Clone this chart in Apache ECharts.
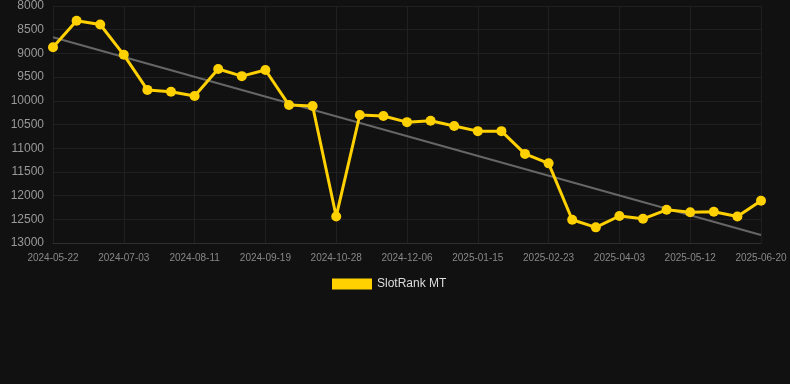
<!DOCTYPE html>
<html>
<head>
<meta charset="utf-8">
<script src="https://cdn.jsdelivr.net/npm/echarts@6/dist/echarts.min.js"></script>
<style>
html,body{margin:0;padding:0;background:#111111;}
#chart{width:790px;height:384px;}
</style>
</head>
<body>
<div id="chart"></div>
<script>
var categories = ['2024-05-22','2024-06-05','2024-06-19','2024-07-03','2024-07-16','2024-07-29','2024-08-11','2024-08-24','2024-09-06','2024-09-19','2024-10-02','2024-10-15','2024-10-28','2024-11-10','2024-11-23','2024-12-06','2024-12-19','2025-01-02','2025-01-15','2025-01-28','2025-02-10','2025-02-23','2025-03-08','2025-03-21','2025-04-03','2025-04-16','2025-04-29','2025-05-12','2025-05-25','2025-06-07','2025-06-20'];
var rankValues = [8870,8310,8390,9030,9770,9810,9900,9330,9480,9350,10090,10110,12440,10300,10320,10450,10420,10530,10640,10640,11120,11320,12510,12670,12430,12490,12300,12350,12340,12440,12110];
var trendEnds = [8660, 12830];
var seriesName = 'SlotRank MT';

var trend = categories.map(function(_, i){
  if (i === 0) return trendEnds[0];
  if (i === categories.length - 1) return trendEnds[1];
  return null;
});

var chart = echarts.init(document.getElementById('chart'));
chart.setOption({
  backgroundColor:'#111111',
  animation:false,
  grid:{left:53,right:29,top:6,bottom:141},
  legend:{
    data:[{name:seriesName,icon:'rect'}],
    top:273,left:327,
    itemWidth:40,itemHeight:11,itemGap:10,
    textStyle:{color:'#dddddd',fontSize:12,fontFamily:'Arial, Liberation Sans, sans-serif'}
  },
  xAxis:{
    type:'category',data:categories,boundaryGap:false,
    axisLine:{show:true,lineStyle:{color:'#2e2e2e'}},
    axisTick:{show:false},
    axisLabel:{color:'#888888',fontSize:10,interval:2,margin:10,fontFamily:'Arial, Liberation Sans, sans-serif'},
    splitLine:{show:true,interval:2,lineStyle:{color:'#202020'}}
  },
  yAxis:{
    type:'value',inverse:true,min:8000,max:13000,interval:500,
    axisLine:{show:false},axisTick:{show:false},
    axisLabel:{color:'#999999',fontSize:12,margin:9,fontFamily:'Arial, Liberation Sans, sans-serif',
      formatter:function(v){return String(v);}},
    splitLine:{lineStyle:{color:'#202020'}}
  },
  series:[
    {name:'trend',type:'line',data:trend,connectNulls:true,symbol:'none',silent:true,
     lineStyle:{color:'#666666',width:2},itemStyle:{color:'#666666'},z:1},
    {name:seriesName,type:'line',data:rankValues,symbol:'circle',symbolSize:10,
     lineStyle:{color:'#FFD100',width:3},itemStyle:{color:'#FFD100'},z:2}
  ]
});
</script>
</body>
</html>
